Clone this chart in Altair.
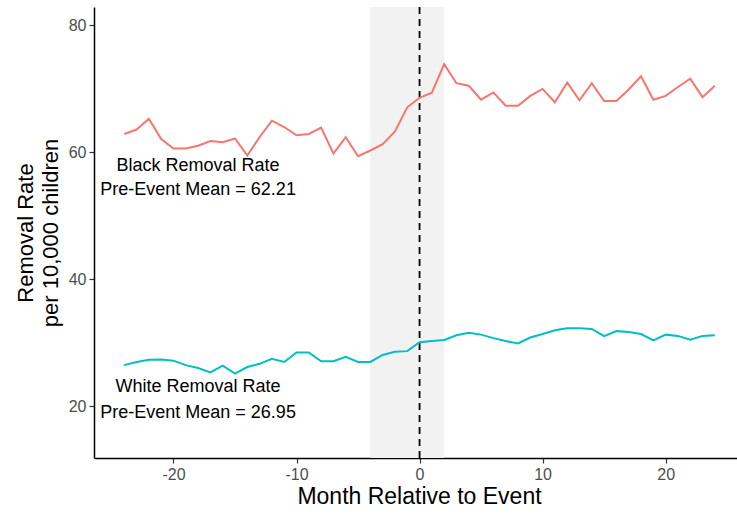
import altair as alt
import pandas as pd

months = list(range(-24, 25))
black = [62.9, 63.6, 65.3, 62.1, 60.6, 60.6, 61.05, 61.8, 61.6, 62.2, 59.5, 62.4,
         65.0, 64.0, 62.7, 62.9, 63.9, 59.8, 62.4, 59.4, 60.3, 61.3, 63.3, 67.1,
         68.6, 69.4, 73.9, 70.9, 70.5, 68.3, 69.45, 67.35, 67.35, 68.9, 70.0, 67.9,
         71.0, 68.2, 70.9, 68.1, 68.1, 69.9, 72.0, 68.3, 68.9, 70.3, 71.6, 68.7, 70.5]
white = [26.5, 27.0, 27.35, 27.4, 27.2, 26.5, 26.05, 25.35, 26.4, 25.15, 26.2, 26.7,
         27.5, 27.0, 28.5, 28.5, 27.1, 27.1, 27.8, 27.0, 27.0, 28.1, 28.6, 28.7,
         30.1, 30.3, 30.45, 31.2, 31.6, 31.3, 30.75, 30.3, 29.9, 30.85, 31.4, 32.0,
         32.3, 32.3, 32.2, 31.05, 31.85, 31.7, 31.4, 30.4, 31.3, 31.1, 30.5, 31.1, 31.2]
groups = ["Black", "White"]
colors = ["#F8766D", "#00BFC4"]

label_text = ["Black Removal Rate", "Pre-Event Mean = 62.21",
              "White Removal Rate", "Pre-Event Mean = 26.95"]
label_x = [-18, -18, -18, -18]
label_y = [57.9, 54.1, 23.1, 19.0]

shade_start = [-4]
shade_end = [2]
event_month = [0]

x_ticks = [-20, -10, 0, 10, 20]
y_ticks = [20, 40, 60, 80]

df = pd.DataFrame({
    "month": months * 2,
    "rate": black + white,
    "group": ["Black"] * len(black) + ["White"] * len(white),
})
labels = pd.DataFrame({"x": label_x, "y": label_y, "text": label_text})
shade = pd.DataFrame({"x1": shade_start, "x2": shade_end})
event = pd.DataFrame({"x": event_month})

FONT = "Liberation Sans"
W, H = 643, 451

xs = alt.Scale(domain=[-26.46, 25.8], nice=False, zero=False)
ys = alt.Scale(domain=[11.87, 82.9], nice=False, zero=False)

x_axis = alt.Axis(values=x_ticks, title="Month Relative to Event", titleX=325,
                  titleAlign="center", titleAnchor="start",
                  labelExpr="replace(datum.label, '\u2212', '-')")
y_axis = alt.Axis(values=y_ticks, title=["Removal Rate", "per 10,000 children"])

rect = alt.Chart(shade).mark_rect(color="#F2F2F2").encode(
    x=alt.X("x1:Q", scale=xs, axis=x_axis),
    x2="x2:Q",
    y=alt.value(0),
    y2=alt.value(H),
)

rule = alt.Chart(event).mark_rule(color="black", strokeWidth=1.8, strokeDash=[7, 5]).encode(
    x=alt.X("x:Q", scale=xs, axis=x_axis),
)

lines = alt.Chart(df).mark_line(strokeWidth=2).encode(
    x=alt.X("month:Q", scale=xs, axis=x_axis),
    y=alt.Y("rate:Q", scale=ys, axis=y_axis),
    color=alt.Color("group:N", scale=alt.Scale(domain=groups, range=colors), legend=None),
)

texts = alt.Chart(labels).mark_text(fontSize=18, font=FONT, color="black").encode(
    x=alt.X("x:Q", scale=xs, axis=x_axis),
    y=alt.Y("y:Q", scale=ys, axis=y_axis),
    text="text:N",
)

chart = alt.layer(rect, rule, lines, texts).properties(
    width=W, height=H,
    autosize=alt.AutoSizeParams(type="none"),
    padding={"left": 94, "top": 7, "right": 0, "bottom": 58},
).configure_view(strokeWidth=0).configure_axis(
    grid=False,
    domainColor="black",
    domainWidth=1.5,
    tickColor="#333333",
    tickSize=5,
    tickWidth=1.2,
    labelColor="#4D4D4D",
    labelFont=FONT,
    labelFontSize=16,
    labelPadding=3,
    titleFont=FONT,
    titleFontSize=22,
    titleFontWeight="normal",
    titleColor="black",
).configure_axisX(
    titlePadding=3,
    titleFontSize=23,
).configure_axisY(
    titlePadding=6,
    titleLineHeight=25,
)

chart.save("out.html", embed_options={"renderer": "svg", "actions": False})
